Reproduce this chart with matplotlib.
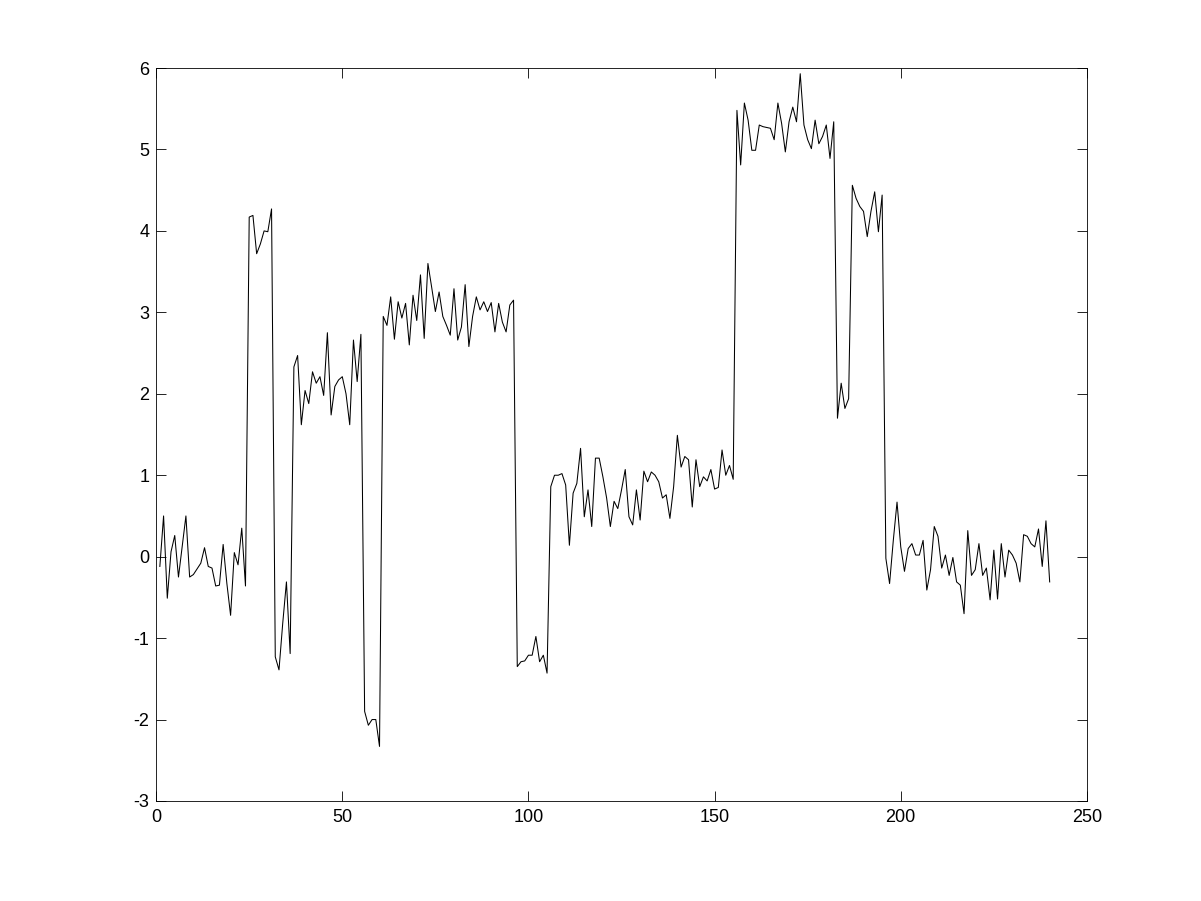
import numpy as np
import matplotlib
matplotlib.use('Agg')
import matplotlib.pyplot as plt

# signal values, sample index 1..240
seg_a = [-0.12, 0.50, -0.51, 0.06, 0.26, -0.25, 0.12, 0.50, -0.25, -0.22,
         -0.15, -0.08, 0.11, -0.12, -0.14, -0.36, -0.35, 0.15, -0.33, -0.72,
         0.05, -0.10, 0.35, -0.36, 4.17, 4.19, 3.72, 3.84, 4.00, 3.99,
         4.27, -1.23, -1.39, -0.82, -0.31, -1.19, 2.33, 2.47, 1.62, 2.04]
seg_b = [1.88, 2.27, 2.13, 2.21, 1.98, 2.75, 1.74, 2.09, 2.17, 2.21,
         2.00, 1.62, 2.66, 2.15, 2.73, -1.90, -2.07, -2.00, -2.00, -2.33,
         2.95, 2.84, 3.19, 2.67, 3.13, 2.93, 3.11, 2.60, 3.21, 2.90,
         3.46, 2.68, 3.60, 3.31, 3.01, 3.25, 2.95, 2.84, 2.72, 3.29]
seg_c = [2.66, 2.82, 3.34, 2.58, 2.95, 3.19, 3.03, 3.13, 3.01, 3.12,
         2.76, 3.11, 2.88, 2.76, 3.09, 3.15, -1.35, -1.29, -1.28, -1.21,
         -1.21, -0.98, -1.29, -1.21, -1.43, 0.86, 1.00, 1.00, 1.02, 0.88,
         0.14, 0.78, 0.90, 1.33, 0.49, 0.82, 0.37, 1.21, 1.21, 0.98]
seg_d = [0.72, 0.37, 0.68, 0.59, 0.82, 1.07, 0.49, 0.39, 0.82, 0.45,
         1.05, 0.92, 1.04, 1.00, 0.92, 0.72, 0.76, 0.47, 0.86, 1.49,
         1.10, 1.23, 1.19, 0.61, 1.19, 0.86, 0.98, 0.93, 1.07, 0.83,
         0.85, 1.31, 1.00, 1.12, 0.95, 5.48, 4.81, 5.57, 5.36, 4.99]
seg_e = [4.99, 5.30, 5.28, 5.27, 5.26, 5.12, 5.57, 5.32, 4.97, 5.34,
         5.52, 5.34, 5.93, 5.30, 5.12, 5.01, 5.36, 5.07, 5.16, 5.30,
         4.89, 5.34, 1.70, 2.13, 1.82, 1.94, 4.56, 4.40, 4.30, 4.24,
         3.93, 4.24, 4.48, 3.99, 4.44, -0.02, -0.33, 0.20, 0.67, 0.12]
seg_f = [-0.18, 0.10, 0.16, 0.02, 0.02, 0.20, -0.41, -0.16, 0.37, 0.25,
         -0.14, 0.02, -0.23, -0.01, -0.31, -0.35, -0.70, 0.32, -0.23, -0.16,
         0.16, -0.23, -0.14, -0.53, 0.08, -0.52, 0.16, -0.25, 0.08, 0.02,
         -0.08, -0.31, 0.27, 0.25, 0.16, 0.12, 0.34, -0.12, 0.44, -0.31]

y = np.array(seg_a + seg_b + seg_c + seg_d + seg_e + seg_f)
x = np.arange(1, len(y) + 1)

xticks = [0, 50, 100, 150, 200, 250]
yticks = [-3, -2, -1, 0, 1, 2, 3, 4, 5, 6]

plt.rcParams['font.family'] = ['Liberation Sans', 'DejaVu Sans']
plt.rcParams['axes.unicode_minus'] = False

fig = plt.figure(figsize=(12.01, 9.01), dpi=100)
ax = fig.add_axes([0.13, 0.111, 0.775, 0.8135])

ax.plot(x, y, color='black', linewidth=0.75)

ax.set_xlim(0, 250)
ax.set_ylim(-3, 6)
ax.set_xticks(xticks)
ax.set_yticks(yticks)
ax.tick_params(direction='in', top=True, right=True, length=7, width=0.6,
               labelsize=13)
ax.tick_params(axis='x', pad=6)
ax.tick_params(axis='y', pad=5)
for s in ax.spines.values():
    s.set_linewidth(0.6)

fig.savefig('out.png', dpi=100)
